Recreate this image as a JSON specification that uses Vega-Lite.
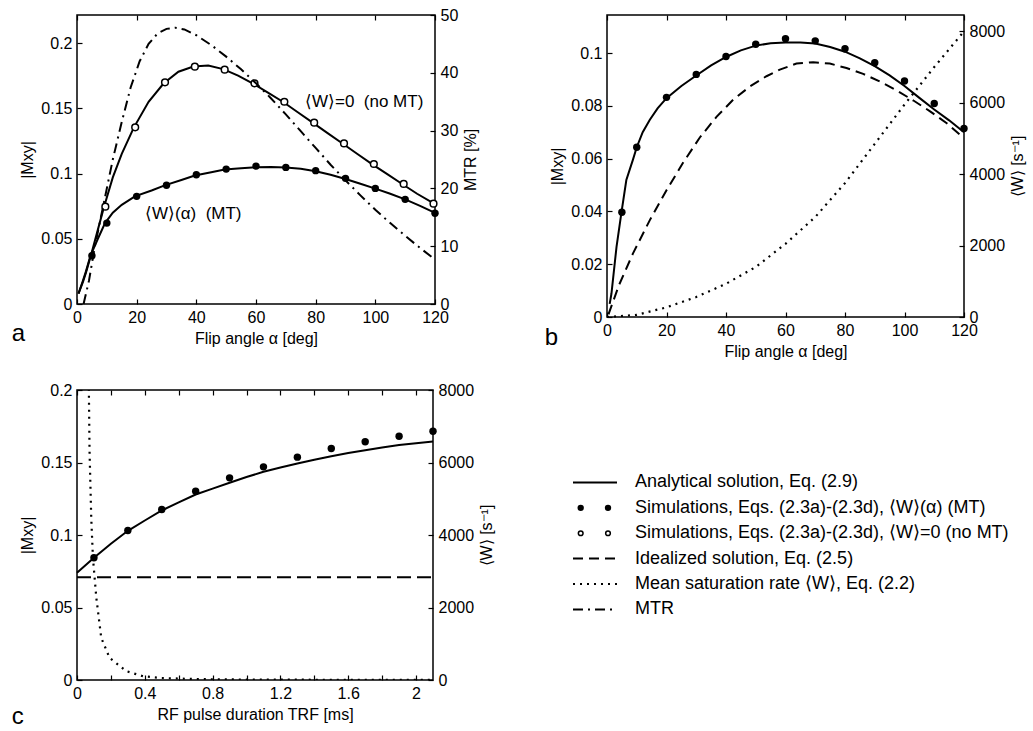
{
  "$schema": "https://vega.github.io/schema/vega-lite/v6.json",
  "padding": {"left": 11, "top": 6, "right": 5, "bottom": 5},
  "background": "white",
  "config": {
    "font": "Liberation Sans",
    "view": {"stroke": "black", "strokeWidth": 1.5},
    "axis": {
      "labelFontSize": 16, "titleFontSize": 16, "titleFontWeight": "normal",
      "labelColor": "black", "titleColor": "black", "domain": false, "grid": false,
      "tickColor": "black", "tickSize": -5, "tickWidth": 1.2, "labelPadding": 10,
      "labelFlush": false, "labelOverlap": false, "titlePadding": 5
    },
    "title": {"fontSize": 24, "fontWeight": "normal", "color": "black"}
  },
  "vconcat": [
    {
      "hconcat": [
        {
          "width": 358, "height": 289,
          "title": {"text": "a", "orient": "bottom", "anchor": "start", "frame": "bounds", "offset": -24, "dx": -8},
          "layer": [
            {
              "encoding": {
                "x": {"field": "x", "type": "quantitative", "scale": {"domain": [0, 120], "nice": false}, "axis": {"values": [0, 20, 40, 60, 80, 100, 120], "title": "Flip angle α [deg]"}},
                "y": {"field": "y", "type": "quantitative", "scale": {"domain": [0, 0.2215], "nice": false}, "axis": {"values": [0, 0.05, 0.1, 0.15, 0.2], "format": "~g", "title": "|Mxy|"}}
              },
              "layer": [
                {
                  "data": {"values": [
                    {"s": "n", "x": 0.5, "y": 0.008}, {"s": "n", "x": 2, "y": 0.017}, {"s": "n", "x": 3, "y": 0.024}, {"s": "n", "x": 5, "y": 0.040}, {"s": "n", "x": 7, "y": 0.057}, {"s": "n", "x": 9, "y": 0.074}, {"s": "n", "x": 12, "y": 0.097}, {"s": "n", "x": 15, "y": 0.115}, {"s": "n", "x": 19, "y": 0.135}, {"s": "n", "x": 24, "y": 0.155}, {"s": "n", "x": 29, "y": 0.169}, {"s": "n", "x": 34, "y": 0.178}, {"s": "n", "x": 39, "y": 0.182}, {"s": "n", "x": 44, "y": 0.1828}, {"s": "n", "x": 49, "y": 0.180}, {"s": "n", "x": 54, "y": 0.175}, {"s": "n", "x": 59, "y": 0.169}, {"s": "n", "x": 64, "y": 0.162}, {"s": "n", "x": 69, "y": 0.155}, {"s": "n", "x": 74, "y": 0.147}, {"s": "n", "x": 79, "y": 0.139}, {"s": "n", "x": 84, "y": 0.131}, {"s": "n", "x": 89, "y": 0.123}, {"s": "n", "x": 94, "y": 0.115}, {"s": "n", "x": 99, "y": 0.107}, {"s": "n", "x": 104, "y": 0.0995}, {"s": "n", "x": 109, "y": 0.092}, {"s": "n", "x": 114, "y": 0.0845}, {"s": "n", "x": 120, "y": 0.0765},
                    {"s": "m", "x": 0.5, "y": 0.008}, {"s": "m", "x": 2, "y": 0.018}, {"s": "m", "x": 3, "y": 0.025}, {"s": "m", "x": 4.5, "y": 0.037}, {"s": "m", "x": 7, "y": 0.050}, {"s": "m", "x": 9.4, "y": 0.062}, {"s": "m", "x": 12, "y": 0.070}, {"s": "m", "x": 15, "y": 0.076}, {"s": "m", "x": 19.4, "y": 0.0825}, {"s": "m", "x": 25, "y": 0.087}, {"s": "m", "x": 29.4, "y": 0.0909}, {"s": "m", "x": 35, "y": 0.095}, {"s": "m", "x": 39.5, "y": 0.0985}, {"s": "m", "x": 45, "y": 0.101}, {"s": "m", "x": 49.5, "y": 0.103}, {"s": "m", "x": 55, "y": 0.104}, {"s": "m", "x": 60, "y": 0.1048}, {"s": "m", "x": 65, "y": 0.105}, {"s": "m", "x": 70, "y": 0.1047}, {"s": "m", "x": 75, "y": 0.1037}, {"s": "m", "x": 80, "y": 0.1018}, {"s": "m", "x": 85, "y": 0.099}, {"s": "m", "x": 90, "y": 0.0958}, {"s": "m", "x": 95, "y": 0.0922}, {"s": "m", "x": 100, "y": 0.0884}, {"s": "m", "x": 105, "y": 0.0845}, {"s": "m", "x": 110, "y": 0.0802}, {"s": "m", "x": 115, "y": 0.0752}, {"s": "m", "x": 120, "y": 0.0698}
                  ]},
                  "mark": {"type": "line", "color": "black", "strokeWidth": 2},
                  "encoding": {"detail": {"field": "s", "type": "nominal"}}
                },
                {
                  "data": {"values": [
                    {"x": 5, "y": 0.037}, {"x": 10, "y": 0.062}, {"x": 20, "y": 0.0825}, {"x": 30, "y": 0.091}, {"x": 40, "y": 0.099}, {"x": 50, "y": 0.1034}, {"x": 60, "y": 0.1057}, {"x": 70, "y": 0.1047}, {"x": 80, "y": 0.1022}, {"x": 90, "y": 0.0963}, {"x": 100, "y": 0.0886}, {"x": 110, "y": 0.0802}, {"x": 120, "y": 0.0695}
                  ]},
                  "mark": {"type": "point", "shape": "circle", "filled": true, "color": "black", "size": 55, "opacity": 1}
                },
                {
                  "data": {"values": [
                    {"x": 9.5, "y": 0.0746}, {"x": 19.5, "y": 0.1354}, {"x": 29.5, "y": 0.1699}, {"x": 39.5, "y": 0.1819}, {"x": 49.5, "y": 0.1796}, {"x": 59.5, "y": 0.1691}, {"x": 69.5, "y": 0.1550}, {"x": 79.5, "y": 0.1390}, {"x": 89.5, "y": 0.1231}, {"x": 99.5, "y": 0.1073}, {"x": 109.5, "y": 0.0920}, {"x": 119.5, "y": 0.0769}
                  ]},
                  "mark": {"type": "point", "shape": "circle", "filled": true, "fill": "white", "stroke": "black", "strokeWidth": 1.5, "size": 45, "opacity": 1}
                },
                {
                  "data": {"values": [
                    {"x": 76.4, "y": 0.1548, "t": "⟨W⟩=0\u00a0\u00a0(no MT)"},
                    {"x": 22.8, "y": 0.069, "t": "⟨W⟩(α)\u00a0\u00a0(MT)"}
                  ]},
                  "mark": {"type": "text", "align": "left", "baseline": "middle", "fontSize": 17, "color": "black"},
                  "encoding": {"text": {"field": "t", "type": "nominal"}}
                }
              ]
            },
            {
              "data": {"values": [
                {"x": 2.2, "m": 0}, {"x": 4, "m": 4}, {"x": 6, "m": 10}, {"x": 9, "m": 17.5}, {"x": 12, "m": 25}, {"x": 15, "m": 31.5}, {"x": 18, "m": 37.5}, {"x": 21, "m": 42}, {"x": 24, "m": 45}, {"x": 27, "m": 46.8}, {"x": 30, "m": 47.6}, {"x": 33, "m": 47.8}, {"x": 36, "m": 47.5}, {"x": 40, "m": 46.5}, {"x": 45, "m": 44.8}, {"x": 50, "m": 42.8}, {"x": 55, "m": 40.6}, {"x": 60, "m": 38.2}, {"x": 65, "m": 35.6}, {"x": 70, "m": 32.8}, {"x": 75, "m": 29.9}, {"x": 80, "m": 27}, {"x": 85, "m": 24.1}, {"x": 90, "m": 21.4}, {"x": 95, "m": 18.8}, {"x": 100, "m": 16.3}, {"x": 105, "m": 14}, {"x": 110, "m": 11.8}, {"x": 115, "m": 9.7}, {"x": 120, "m": 7.7}
              ]},
              "mark": {"type": "line", "color": "black", "strokeWidth": 2, "strokeDash": [10, 5, 2, 5]},
              "encoding": {
                "x": {"field": "x", "type": "quantitative", "scale": {"domain": [0, 120], "nice": false}, "axis": {"orient": "top", "labels": false, "title": null, "values": [0, 20, 40, 60, 80, 100, 120]}},
                "y": {"field": "m", "type": "quantitative", "scale": {"domain": [0, 50], "nice": false}, "axis": {"orient": "right", "values": [0, 10, 20, 30, 40, 50], "title": "MTR [%]", "titleAngle": 270, "titleBaseline": "top"}}
              }
            }
          ],
          "resolve": {"scale": {"y": "independent"}, "axis": {"x": "independent"}}
        },
        {
          "width": 357, "height": 302,
          "title": {"text": "b", "orient": "bottom", "anchor": "start", "frame": "bounds", "offset": -33, "dx": -5},
          "layer": [
            {
              "encoding": {
                "x": {"field": "x", "type": "quantitative", "scale": {"domain": [0, 120], "nice": false}, "axis": {"values": [0, 20, 40, 60, 80, 100, 120], "title": "Flip angle α [deg]"}},
                "y": {"field": "y", "type": "quantitative", "scale": {"domain": [0, 0.1144], "nice": false}, "axis": {"values": [0, 0.02, 0.04, 0.06, 0.08, 0.1], "format": "~g", "title": "|Mxy|"}}
              },
              "layer": [
                {
                  "data": {"values": [
                    {"x": 0.9, "y": 0.005}, {"x": 1.5, "y": 0.0089}, {"x": 3.2, "y": 0.0266}, {"x": 4.8, "y": 0.0392}, {"x": 6.5, "y": 0.0519}, {"x": 8.7, "y": 0.0595}, {"x": 10, "y": 0.0643}, {"x": 12, "y": 0.070}, {"x": 14.4, "y": 0.0747}, {"x": 17, "y": 0.079}, {"x": 20, "y": 0.0829}, {"x": 25, "y": 0.0875}, {"x": 30, "y": 0.0915}, {"x": 35, "y": 0.0953}, {"x": 40, "y": 0.0985}, {"x": 45, "y": 0.101}, {"x": 50, "y": 0.1028}, {"x": 55, "y": 0.1037}, {"x": 60, "y": 0.104}, {"x": 65, "y": 0.104}, {"x": 70, "y": 0.1036}, {"x": 75, "y": 0.1023}, {"x": 80, "y": 0.1005}, {"x": 85, "y": 0.098}, {"x": 90, "y": 0.095}, {"x": 95, "y": 0.0915}, {"x": 100, "y": 0.0875}, {"x": 105, "y": 0.083}, {"x": 110, "y": 0.0786}, {"x": 115, "y": 0.0745}, {"x": 120, "y": 0.070}
                  ]},
                  "mark": {"type": "line", "color": "black", "strokeWidth": 2}
                },
                {
                  "data": {"values": [
                    {"x": 0.5, "y": 0.001}, {"x": 4, "y": 0.012}, {"x": 8.7, "y": 0.024}, {"x": 14.4, "y": 0.0367}, {"x": 20, "y": 0.048}, {"x": 25.6, "y": 0.0585}, {"x": 31.2, "y": 0.0680}, {"x": 36.8, "y": 0.0758}, {"x": 42.4, "y": 0.0823}, {"x": 48, "y": 0.0873}, {"x": 53.6, "y": 0.0912}, {"x": 58.1, "y": 0.0937}, {"x": 63.7, "y": 0.0960}, {"x": 69.3, "y": 0.0965}, {"x": 74.9, "y": 0.0960}, {"x": 80.5, "y": 0.0943}, {"x": 86.1, "y": 0.0921}, {"x": 91.7, "y": 0.0892}, {"x": 97.4, "y": 0.0858}, {"x": 103, "y": 0.082}, {"x": 108.6, "y": 0.0779}, {"x": 114.2, "y": 0.0734}, {"x": 120, "y": 0.0677}
                  ]},
                  "mark": {"type": "line", "color": "black", "strokeWidth": 2, "strokeDash": [10, 6]}
                },
                {
                  "data": {"values": [
                    {"x": 5, "y": 0.0397}, {"x": 10, "y": 0.0643}, {"x": 20, "y": 0.0832}, {"x": 30, "y": 0.0919}, {"x": 40, "y": 0.0987}, {"x": 50, "y": 0.1033}, {"x": 60, "y": 0.1054}, {"x": 70, "y": 0.1046}, {"x": 80, "y": 0.1016}, {"x": 90, "y": 0.0963}, {"x": 100, "y": 0.0894}, {"x": 110, "y": 0.0809}, {"x": 120, "y": 0.0714}
                  ]},
                  "mark": {"type": "point", "shape": "circle", "filled": true, "color": "black", "size": 55, "opacity": 1}
                }
              ]
            },
            {
              "data": {"values": [
                {"x": 0, "w": 0}, {"x": 10, "w": 60}, {"x": 20, "w": 270}, {"x": 30, "w": 560}, {"x": 40, "w": 930}, {"x": 50, "w": 1400}, {"x": 60, "w": 2050}, {"x": 70, "w": 2800}, {"x": 80, "w": 3750}, {"x": 90, "w": 4850}, {"x": 100, "w": 5950}, {"x": 110, "w": 7000}, {"x": 120, "w": 8000}
              ]},
              "mark": {"type": "line", "color": "black", "strokeWidth": 2.2, "strokeDash": [2, 5]},
              "encoding": {
                "x": {"field": "x", "type": "quantitative", "scale": {"domain": [0, 120], "nice": false}, "axis": {"orient": "top", "labels": false, "title": null, "values": [0, 20, 40, 60, 80, 100, 120]}},
                "y": {"field": "w", "type": "quantitative", "scale": {"domain": [0, 8458], "nice": false}, "axis": {"orient": "right", "values": [0, 2000, 4000, 6000, 8000], "format": "d", "title": "⟨W⟩ [s⁻¹]", "titleAngle": 270, "titleBaseline": "top"}}
              }
            }
          ],
          "resolve": {"scale": {"y": "independent"}, "axis": {"x": "independent"}}
        }
      ],
      "spacing": 64
    },
    {
      "hconcat": [
        {
          "width": 356, "height": 290,
          "title": {"text": "c", "orient": "bottom", "anchor": "start", "frame": "bounds", "offset": -17, "dx": -8},
          "layer": [
            {
              "encoding": {
                "x": {"field": "x", "type": "quantitative", "scale": {"domain": [0, 2.1], "nice": false}, "axis": {"values": [0, 0.2, 0.4, 0.6, 0.8, 1, 1.2, 1.4, 1.6, 1.8, 2], "format": "~g", "labelExpr": "round(datum.value*10) % 4 == 0 ? datum.label : ''", "title": "RF pulse duration TRF [ms]"}},
                "y": {"field": "y", "type": "quantitative", "scale": {"domain": [0, 0.2], "nice": false}, "axis": {"values": [0, 0.05, 0.1, 0.15, 0.2], "format": "~g", "title": "|Mxy|"}}
              },
              "layer": [
                {
                  "data": {"values": [
                    {"x": 0, "y": 0.0739}, {"x": 0.1, "y": 0.0843}, {"x": 0.2, "y": 0.094}, {"x": 0.3, "y": 0.1029}, {"x": 0.4, "y": 0.110}, {"x": 0.5, "y": 0.1169}, {"x": 0.6, "y": 0.1225}, {"x": 0.7, "y": 0.1279}, {"x": 0.8, "y": 0.132}, {"x": 0.9, "y": 0.136}, {"x": 1.0, "y": 0.140}, {"x": 1.1, "y": 0.1436}, {"x": 1.2, "y": 0.1466}, {"x": 1.3, "y": 0.1493}, {"x": 1.4, "y": 0.1519}, {"x": 1.5, "y": 0.1543}, {"x": 1.6, "y": 0.1565}, {"x": 1.7, "y": 0.1585}, {"x": 1.8, "y": 0.1603}, {"x": 1.9, "y": 0.162}, {"x": 2.0, "y": 0.1633}, {"x": 2.1, "y": 0.1645}
                  ]},
                  "mark": {"type": "line", "color": "black", "strokeWidth": 2}
                },
                {
                  "data": {"values": [{"x": 0, "y": 0.0709}, {"x": 2.1, "y": 0.0709}]},
                  "mark": {"type": "line", "color": "black", "strokeWidth": 2, "strokeDash": [14, 6]}
                },
                {
                  "data": {"values": [
                    {"x": 0.1, "y": 0.0843}, {"x": 0.3, "y": 0.1031}, {"x": 0.5, "y": 0.1176}, {"x": 0.7, "y": 0.1302}, {"x": 0.9, "y": 0.1394}, {"x": 1.1, "y": 0.147}, {"x": 1.3, "y": 0.1537}, {"x": 1.5, "y": 0.1597}, {"x": 1.7, "y": 0.1643}, {"x": 1.9, "y": 0.1681}, {"x": 2.1, "y": 0.1716}
                  ]},
                  "mark": {"type": "point", "shape": "circle", "filled": true, "color": "black", "size": 55, "opacity": 1}
                }
              ]
            },
            {
              "data": {"values": [
                {"x": 0.067, "w": 9000}, {"x": 0.070, "w": 8000}, {"x": 0.074, "w": 6310}, {"x": 0.084, "w": 4475}, {"x": 0.094, "w": 3372}, {"x": 0.114, "w": 2268}, {"x": 0.143, "w": 1164}, {"x": 0.192, "w": 612}, {"x": 0.291, "w": 243}, {"x": 0.389, "w": 105}, {"x": 0.5, "w": 55}, {"x": 0.7, "w": 25}, {"x": 1.0, "w": 12}, {"x": 1.5, "w": 6}, {"x": 2.1, "w": 4}
              ]},
              "mark": {"type": "line", "color": "black", "strokeWidth": 2.2, "strokeDash": [2, 5], "clip": true},
              "encoding": {
                "x": {"field": "x", "type": "quantitative", "scale": {"domain": [0, 2.1], "nice": false}, "axis": {"orient": "top", "labels": false, "title": null, "values": [0, 0.2, 0.4, 0.6, 0.8, 1, 1.2, 1.4, 1.6, 1.8, 2]}},
                "y": {"field": "w", "type": "quantitative", "scale": {"domain": [0, 8000], "nice": false}, "axis": {"orient": "right", "values": [0, 2000, 4000, 6000, 8000], "format": "d", "title": "⟨W⟩ [s⁻¹]", "titleAngle": 270, "titleBaseline": "top"}}
              }
            }
          ],
          "resolve": {"scale": {"y": "independent"}, "axis": {"x": "independent"}}
        },
        {
          "width": 440, "height": 290,
          "view": {"stroke": null},
          "layer": [
            {
              "data": {"values": [
                {"r": 0, "x1": 57, "x2": 101, "d": "solid"},
                {"r": 3, "x1": 57, "x2": 101, "d": "dash"},
                {"r": 4, "x1": 57, "x2": 101, "d": "dot"},
                {"r": 5, "x1": 57, "x2": 101, "d": "dashdot"}
              ]},
              "mark": {"type": "rule", "color": "black", "strokeWidth": 2},
              "encoding": {
                "x": {"field": "x1", "type": "quantitative", "scale": {"domain": [0, 440], "nice": false, "zero": false}, "axis": null},
                "x2": {"field": "x2"},
                "y": {"field": "r", "type": "quantitative", "scale": {"domain": [-3.64, 7.78], "reverse": true, "nice": false, "zero": false}, "axis": null},
                "strokeDash": {"field": "d", "type": "nominal", "scale": {"domain": ["solid", "dash", "dot", "dashdot"], "range": [[1, 0], [10, 6], [2, 5], [10, 5, 2, 5]]}, "legend": null}
              }
            },
            {
              "data": {"values": [{"r": 1, "x": 64.7}, {"r": 1, "x": 92}]},
              "mark": {"type": "point", "shape": "circle", "filled": true, "color": "black", "size": 40, "opacity": 1},
              "encoding": {
                "x": {"field": "x", "type": "quantitative", "scale": {"domain": [0, 440], "nice": false, "zero": false}, "axis": null},
                "y": {"field": "r", "type": "quantitative", "scale": {"domain": [-3.64, 7.78], "reverse": true, "nice": false, "zero": false}, "axis": null}
              }
            },
            {
              "data": {"values": [{"r": 2, "x": 64.7}, {"r": 2, "x": 92}]},
              "mark": {"type": "point", "shape": "circle", "filled": true, "fill": "white", "stroke": "black", "strokeWidth": 1.5, "size": 22, "opacity": 1},
              "encoding": {
                "x": {"field": "x", "type": "quantitative", "scale": {"domain": [0, 440], "nice": false, "zero": false}, "axis": null},
                "y": {"field": "r", "type": "quantitative", "scale": {"domain": [-3.64, 7.78], "reverse": true, "nice": false, "zero": false}, "axis": null}
              }
            },
            {
              "data": {"values": [
                {"r": 0, "x": 119, "t": "Analytical solution, Eq. (2.9)"},
                {"r": 1, "x": 119, "t": "Simulations, Eqs. (2.3a)-(2.3d), ⟨W⟩(α) (MT)"},
                {"r": 2, "x": 119, "t": "Simulations, Eqs. (2.3a)-(2.3d), ⟨W⟩=0 (no MT)"},
                {"r": 3, "x": 119, "t": "Idealized solution, Eq. (2.5)"},
                {"r": 4, "x": 119, "t": "Mean saturation rate ⟨W⟩, Eq. (2.2)"},
                {"r": 5, "x": 119, "t": "MTR"}
              ]},
              "mark": {"type": "text", "align": "left", "baseline": "middle", "fontSize": 18, "color": "black"},
              "encoding": {
                "x": {"field": "x", "type": "quantitative", "scale": {"domain": [0, 440], "nice": false, "zero": false}, "axis": null},
                "y": {"field": "r", "type": "quantitative", "scale": {"domain": [-3.64, 7.78], "reverse": true, "nice": false, "zero": false}, "axis": null},
                "text": {"field": "t", "type": "nominal"}
              }
            }
          ]
        }
      ],
      "spacing": 20
    }
  ],
  "spacing": 21
}
